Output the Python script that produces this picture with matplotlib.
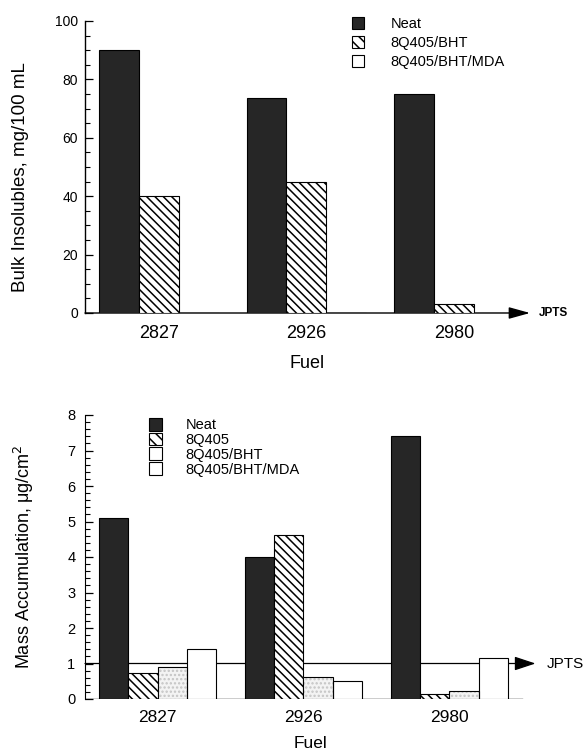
import matplotlib
matplotlib.use("Agg")
import matplotlib.pyplot as plt
import numpy as np
from matplotlib.patches import Patch
from matplotlib.ticker import MultipleLocator

plt.rcParams['font.family'] = ['Liberation Sans', 'DejaVu Sans']
plt.rcParams['hatch.linewidth'] = 1.1

# ---------------- data ----------------
fuels = ["2827", "2926", "2980"]

# top panel: bulk insolubles (mg/100 mL)
top_series = ["Neat", "8Q405/BHT", "8Q405/BHT/MDA"]
top_neat = [90, 73.7, 75]
top_bht = [40, 45, 3]
top_mda = [0, 0, 0]
top_yticks = [0, 20, 40, 60, 80, 100]

# bottom panel: mass accumulation (ug/cm2)
bot_series = ["Neat", "8Q405", "8Q405/BHT", "8Q405/BHT/MDA"]
bot_neat = [5.1, 4.0, 7.42]
bot_8q = [0.74, 4.62, 0.14]
bot_bht = [0.91, 0.62, 0.23]
bot_mda = [1.41, 0.51, 1.15]
bot_yticks = [0, 1, 2, 3, 4, 5, 6, 7, 8]
jpts_level = 1.0

DARK = '#262626'

fig = plt.figure(figsize=(5.87, 7.54), dpi=100)

# ================= TOP PANEL =================
ax1 = fig.add_axes([85/587, 1-313/754, 445/587, 292/754])
x = np.arange(len(fuels))
w = 0.27
ax1.bar(x - w, top_neat, w, color=DARK, edgecolor='black', linewidth=0.8, zorder=3)
ax1.bar(x, top_bht, w, color='white', edgecolor='black', hatch='\\\\\\\\', linewidth=0.8, zorder=3)
ax1.bar(x + w, top_mda, w, color='white', edgecolor='black', linewidth=0.8, zorder=3)

ax1.set_xlim(-0.5, 2.515)
ax1.set_ylim(0, 100)
ax1.set_yticks(top_yticks)
ax1.set_yticklabels([str(v) for v in top_yticks], fontsize=10)
ax1.yaxis.set_minor_locator(MultipleLocator(5))
ax1.tick_params(axis='y', which='major', direction='in', length=6, width=0.9, pad=5)
ax1.tick_params(axis='y', which='minor', direction='in', length=3.5, width=0.8)
ax1.set_xticks(x)
ax1.set_xticklabels(fuels, fontsize=13)
ax1.tick_params(axis='x', length=0, pad=9)
for s in ['top', 'right', 'bottom']:
    ax1.spines[s].set_visible(False)
ax1.spines['left'].set_linewidth(1.0)
ax1.annotate('', xy=(1, 0), xytext=(0, 0), xycoords=ax1.get_yaxis_transform(),
             arrowprops=dict(arrowstyle='-|>,head_length=13,head_width=3.6', mutation_scale=1,
                             lw=1.0, color='black', shrinkA=0, shrinkB=0),
             annotation_clip=False, zorder=2)
ax1.text(1 + 9/445, 0, 'JPTS', transform=ax1.get_yaxis_transform(), fontsize=8.5,
         fontweight='bold', va='center', ha='left')
ax1.set_ylabel('Bulk Insolubles, mg/100 mL', fontsize=13.5)
ax1.yaxis.set_label_coords(-56/445, 0.466)
ax1.set_xlabel('Fuel', fontsize=13, labelpad=9)

h1 = [Patch(facecolor=DARK, edgecolor='black', linewidth=0.8),
      Patch(facecolor='white', edgecolor='black', hatch='\\\\\\', linewidth=0.8),
      Patch(facecolor='white', edgecolor='black', linewidth=0.8)]
fig.legend(h1, top_series, loc='upper left', bbox_to_anchor=(352/587, 1-17/754),
           frameon=False, fontsize=10.5, handlelength=0.85, handleheight=0.85,
           handletextpad=1.8, labelspacing=0.35, borderpad=0, borderaxespad=0)

# ================= BOTTOM PANEL =================
ax2 = fig.add_axes([85/587, 1-699/754, 450.5/587, 284/754])
w2 = 0.2
ax2.bar(x - 1.5*w2, bot_neat, w2, color=DARK, edgecolor='black', linewidth=0.8, zorder=3)
ax2.bar(x - 0.5*w2, bot_8q, w2, color='white', edgecolor='black', hatch='\\\\\\\\', linewidth=0.8, zorder=3)
ax2.bar(x + 0.5*w2, bot_bht, w2, color='#f3f3f3', edgecolor='#c4c4c4', hatch='....', linewidth=0, zorder=3)
ax2.bar(x + 0.5*w2, bot_bht, w2, fill=False, edgecolor='black', linewidth=0.8, zorder=4)
ax2.bar(x + 1.5*w2, bot_mda, w2, color='white', edgecolor='black', linewidth=0.8, zorder=3)

ax2.set_xlim(-0.497, 2.59)
ax2.set_ylim(0, 8)
ax2.set_yticks(bot_yticks)
ax2.set_yticklabels([str(v) for v in bot_yticks], fontsize=10.5)
ax2.yaxis.set_minor_locator(MultipleLocator(0.2))
ax2.tick_params(axis='y', which='major', direction='in', length=6, width=0.9, pad=7)
ax2.tick_params(axis='y', which='minor', direction='in', length=3.5, width=0.8)
ax2.set_xticks(x)
ax2.set_xticklabels(fuels, fontsize=12.5)
ax2.tick_params(axis='x', length=0, pad=8)
for s in ['top', 'right', 'bottom']:
    ax2.spines[s].set_visible(False)
ax2.axhline(0, xmin=0, xmax=0.97, color='black', lw=1.0, zorder=2)
ax2.annotate('', xy=(1, jpts_level), xytext=(0, jpts_level), xycoords=ax2.get_yaxis_transform(),
             arrowprops=dict(arrowstyle='-|>,head_length=13,head_width=4.3', mutation_scale=1,
                             lw=0.9, color='black', shrinkA=0, shrinkB=0),
             annotation_clip=False, zorder=1)
ax2.text(1 + 11.5/450.5, jpts_level, 'JPTS', transform=ax2.get_yaxis_transform(), fontsize=11,
         va='center', ha='left')
ax2.set_ylabel('Mass Accumulation, μg/cm$^2$', fontsize=13, labelpad=22)
ax2.set_xlabel('Fuel', fontsize=12.5, labelpad=8)

h2 = [Patch(facecolor=DARK, edgecolor='black', linewidth=0.8),
      Patch(facecolor='white', edgecolor='black', hatch='\\\\\\', linewidth=0.8),
      Patch(facecolor='white', edgecolor='black', linewidth=0.8),
      Patch(facecolor='white', edgecolor='black', linewidth=0.8)]
fig.legend(h2, bot_series, loc='upper left', bbox_to_anchor=(149/587, 1-418/754),
           frameon=False, fontsize=10.5, handlelength=0.9, handleheight=0.95,
           handletextpad=1.6, labelspacing=0.03, borderpad=0, borderaxespad=0)

fig.savefig('out.png', dpi=100)
